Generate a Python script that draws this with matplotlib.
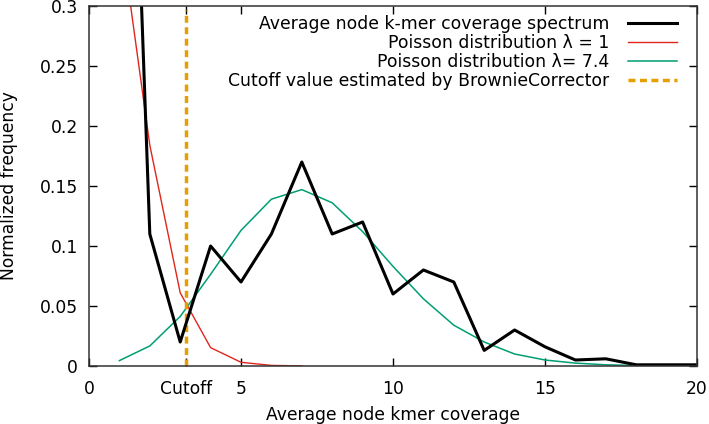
import numpy as np
import matplotlib
matplotlib.use("Agg")
import matplotlib.pyplot as plt

# --- data ---
coverage = [1, 2, 3, 4, 5, 6, 7, 8, 9, 10, 11, 12, 13, 14, 15, 16, 17, 18, 19, 20]
spectrum = [0.81, 0.11, 0.02, 0.10, 0.07, 0.11, 0.17, 0.11, 0.12, 0.06,
            0.08, 0.07, 0.013, 0.03, 0.016, 0.005, 0.006, 0.001, 0.001, 0.001]

pois1_x = [1, 2, 3, 4, 5, 6, 7]
pois1_y = [0.368, 0.184, 0.061, 0.0153, 0.0031, 0.0005, 0.0001]

pois74_y = [0.0045, 0.0167, 0.0413, 0.0764, 0.113, 0.139, 0.147, 0.136, 0.112, 0.083,
            0.056, 0.034, 0.020, 0.010, 0.005, 0.0024, 0.0010, 0.0004, 0.00016, 0.00006]

cutoff = 3.2
xticks = [0, cutoff, 5, 10, 15, 20]
xtick_labels = ["0", "Cutoff", "5", "10", "15", "20"]
yticks = [0, 0.05, 0.1, 0.15, 0.2, 0.25, 0.3]
ytick_labels = ["0", "0.05", "0.1", "0.15", "0.2", "0.25", "0.3"]

plt.rcParams['font.family'] = ['DejaVu Sans']
plt.rcParams['font.size'] = 12

fig = plt.figure(figsize=(7.09, 4.24), dpi=100)
ax = fig.add_axes([89 / 709, 58 / 424, 608 / 709, 360 / 424])

ax.plot(coverage, spectrum, color='black', lw=2.2, zorder=4,
        label='Average node k-mer coverage spectrum')
ax.plot(pois1_x, pois1_y, color='#e0261c', lw=1.0, zorder=3,
        label='Poisson distribution λ = 1')
ax.plot(coverage, pois74_y, color='#009e73', lw=1.1, zorder=3,
        label='Poisson distribution λ= 7.4')
ax.plot([cutoff, cutoff], [0, 0.297], color='#e69f00', lw=2.5, ls=(0, (2.0, 1.3)),
        zorder=3.5, label='Cutoff value estimated by BrownieCorrector')

ax.set_xlim(0, 20)
ax.set_ylim(0, 0.3)
ax.set_xticks(xticks)
ax.set_xticklabels(xtick_labels)
ax.set_yticks(yticks)
ax.set_yticklabels(ytick_labels)
ax.tick_params(direction='in', top=True, right=True, length=6, width=1, pad=8, labelsize=12.3)
ax.tick_params(axis='x', pad=10)
for s in ax.spines.values():
    s.set_linewidth(1.1)
    s.set_color('#333333')
    s.set_zorder(5)

ax.set_xlabel('Average node kmer coverage', fontsize=12.3, labelpad=6)
ax.set_ylabel('Normalized frequency', fontsize=12.3)
# y label sits right at the left edge of the figure
ax.yaxis.set_label_coords((9 - 89) / 608, 0.5)
ax.yaxis.label.set_va('center')

leg = ax.legend(loc='upper right', frameon=False, markerfirst=False, fontsize=12.4,
                handlelength=2.8, handletextpad=1.1, labelspacing=0.05,
                borderaxespad=0.15, bbox_to_anchor=(0.982, 1.0))
for t in leg.get_texts():
    t.set_ha('right')
leg._legend_box.align = 'right'

fig.savefig('out.png', dpi=100)
